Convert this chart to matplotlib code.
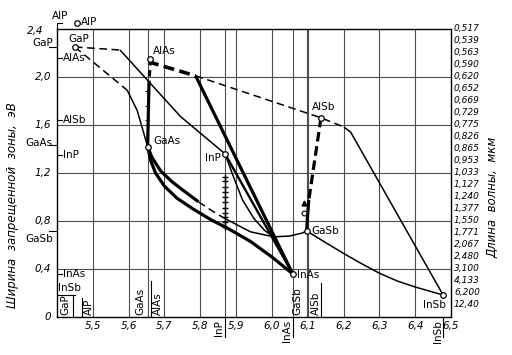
import numpy as np
import matplotlib.pyplot as plt
from matplotlib.transforms import offset_copy

# ---------------------------------------------------------------
# binary compounds: lattice constant (A), band gap (eV)
# ---------------------------------------------------------------
names  = ['GaP', 'AlP', 'AlAs', 'GaAs', 'InP', 'AlSb', 'GaSb', 'InAs', 'InSb']
a_bin  = [5.450, 5.457, 5.661, 5.653, 5.869, 6.137, 6.097, 6.058, 6.478]
eg_bin = [2.25, 2.45, 2.15, 1.42, 1.36, 1.66, 0.717, 0.36, 0.183]

# ---------------------------------------------------------------
# ternary curves
# ---------------------------------------------------------------
# GaP - GaAs
gap_gaas_dash_x = [5.450, 5.596]
gap_gaas_dash_y = [2.25, 1.89]
gap_gaas_x = [5.596, 5.624, 5.653]
gap_gaas_y = [1.89, 1.72, 1.42]
# GaP - InP
gap_inp_dash_x = [5.450, 5.576]
gap_inp_dash_y = [2.25, 2.225]
gap_inp_x = [5.576, 5.745, 5.869]
gap_inp_y = [2.225, 1.67, 1.36]
# AlAs - GaAs
alas_gaas_dash_x = [5.661, 5.657]
alas_gaas_dash_y = [2.15, 1.97]
alas_gaas_x = [5.657, 5.653]
alas_gaas_y = [1.97, 1.42]
alas_gaas_pts_y = [1.88, 1.76, 1.64]
# AlAs - InAs
alas_inas_dash_x = [5.661, 5.666, 5.787]
alas_inas_dash_y = [2.15, 2.117, 2.01]
alas_inas_x = [5.787, 6.058]
alas_inas_y = [2.01, 0.36]
# AlAs - AlSb - InSb
alas_alsb_x = [5.787, 6.137, 6.201]
alas_alsb_y = [2.01, 1.66, 1.583]
alsb_insb_x = [6.201, 6.22, 6.478]
alsb_insb_y = [1.583, 1.54, 0.183]
# AlSb - GaSb
alsb_gasb_dash_x = [6.137, 6.103]
alsb_gasb_dash_y = [1.66, 0.975]
alsb_gasb_x = [6.103, 6.099, 6.097]
alsb_gasb_y = [0.975, 0.82, 0.717]
alsb_gasb_pts_x = [6.090, 6.090]
alsb_gasb_pts_y = [0.95, 0.87]
# GaAs - InAs
gaas_inas_x = [5.653, 5.662, 5.675, 5.70, 5.735, 5.78, 5.83, 5.876, 5.94, 6.0, 6.058]
gaas_inas_y = [1.42, 1.30, 1.20, 1.09, 0.99, 0.90, 0.81, 0.74, 0.63, 0.5, 0.36]
# GaAs - GaSb
gaas_gasb_x1 = [5.653, 5.665, 5.69, 5.72, 5.748, 5.795]
gaas_gasb_y1 = [1.42, 1.33, 1.215, 1.13, 1.065, 0.96]
gaas_gasb_dash_x = [5.795, 5.83, 5.866]
gaas_gasb_dash_y = [0.96, 0.89, 0.825]
gaas_gasb_x2 = [5.866, 5.94, 6.005, 6.05, 6.085, 6.097]
gaas_gasb_y2 = [0.825, 0.71, 0.668, 0.675, 0.70, 0.717]
# InP - InAs, InP - GaSb
inp_inas_x = [5.869, 6.058]
inp_inas_y = [1.36, 0.36]
inp_gasb_x = [5.869, 5.895, 5.918, 5.95, 5.98, 6.005]
inp_gasb_y = [1.36, 1.15, 0.975, 0.82, 0.72, 0.668]
# GaSb - InSb
gasb_insb_x = [6.097, 6.15, 6.2, 6.25, 6.3, 6.35, 6.4, 6.45, 6.478]
gasb_insb_y = [0.717, 0.62, 0.53, 0.445, 0.365, 0.30, 0.25, 0.207, 0.183]
# points lattice-matched to InP
inp_pts_y = [1.17, 1.13, 1.08, 1.04, 1.00, 0.96, 0.91, 0.87, 0.83, 0.79, 0.75]

# ---------------------------------------------------------------
# axes texts
# ---------------------------------------------------------------
x_ticks = [5.5, 5.6, 5.7, 5.8, 5.9, 6.0, 6.1, 6.2, 6.3, 6.4, 6.5]
x_labels = ['5,5', '5,6', '5,7', '5,8', '5,9', '6,0', '6,1', '6,2', '6,3', '6,4', '6,5']
y_ticks = [0, 0.4, 0.8, 1.2, 1.6, 2.0, 2.4]
y_labels = ['0', '0,4', '0,8', '1,2', '1,6', '2,0', '2,4']
wl_pos = [2.4, 2.3, 2.2, 2.1, 2.0, 1.9, 1.8, 1.7, 1.6, 1.5, 1.4, 1.3,
          1.2, 1.1, 1.0, 0.9, 0.8, 0.7, 0.6, 0.5, 0.4, 0.3, 0.2, 0.1]
wl_labels = ['0,517', '0,539', '0,563', '0,590', '0,620', '0,652', '0,669',
             '0,729', '0,775', '0,826', '0,865', '0,953', '1,033', '1,127',
             '1,240', '1,377', '1,550', '1,771', '2,067', '2,480', '3,100',
             '4,133', '6,200', '12,40']

# gap markers on the left axis
left_out = ['GaP', 'GaAs', 'GaSb']
left_out_y = [2.25, 1.43, 0.72]
left_in = ['AlAs', 'AlSb', 'InP', 'InAs']
left_in_y = [2.16, 1.64, 1.35, 0.355]

# lattice constant markers on the bottom axis
full_lines = [5.653, 5.869, 6.058, 6.097]
short_lines_x = [5.444, 5.47, 5.663, 6.137]
short_lines_top = [0.183, 0.16, 0.30, 0.28]
below_lines = [5.869, 6.058, 6.478]
bottom_in = ['GaP', 'AlP', 'GaAs', 'AlAs', 'GaSb', 'AlSb']
bottom_in_x = [5.424, 5.488, 5.633, 5.682, 6.072, 6.122]
bottom_out = ['InP', 'InAs', 'InSb']
bottom_out_x = [5.852, 6.041, 6.463]

# ---------------------------------------------------------------
fig = plt.figure(figsize=(5.12, 3.55), dpi=100)
ax = fig.add_axes([57/512, 38/355, 394/512, 288/355])
ax.set_xlim(5.4, 6.5)
ax.set_ylim(0, 2.4)

def px(dx, dy):
    return offset_copy(ax.transData, fig=fig, x=dx, y=dy, units='dots')

gc = '0.3'
for x in [5.5, 5.6, 5.7, 5.8, 5.9, 6.0, 6.1, 6.2, 6.3, 6.4]:
    ax.axvline(x, color=gc, lw=0.8, zorder=1)
for y in [0.4, 0.8, 1.2, 1.6, 2.0]:
    ax.axhline(y, color=gc, lw=0.8, zorder=1)
for x in full_lines:
    ax.axvline(x, color=gc, lw=0.8, zorder=1)
for x, t in zip(short_lines_x, short_lines_top):
    ax.plot([x, x], [0, t], color='k', lw=0.8)
for x in below_lines:
    ax.plot([x, x], [0, -0.17], color='k', lw=0.8, clip_on=False)
ax.plot([5.4, 5.45], [0.183, 0.183], color='k', lw=0.8)

thick, mid, thin = 2.3, 1.7, 1.1
dash = (0, (5, 3))
segs = [
    (gap_gaas_dash_x, gap_gaas_dash_y, thin, dash),
    (gap_gaas_x, gap_gaas_y, thin, '-'),
    (gap_inp_dash_x, gap_inp_dash_y, thin, dash),
    (gap_inp_x, gap_inp_y, thin, '-'),
    (alas_gaas_dash_x, alas_gaas_dash_y, thick, (0, (2, 1.5))),
    (alas_gaas_x, alas_gaas_y, thick, '-'),
    (alas_inas_dash_x, alas_inas_dash_y, 2.6, (0, (3, 1.5))),
    (alas_inas_x, alas_inas_y, thick, '-'),
    (alas_alsb_x, alas_alsb_y, thin, dash),
    (alsb_insb_x, alsb_insb_y, thin, '-'),
    (alsb_gasb_dash_x, alsb_gasb_dash_y, thick, (0, (3, 1.5))),
    (alsb_gasb_x, alsb_gasb_y, thick, '-'),
    (gaas_inas_x, gaas_inas_y, thick, '-'),
    (gaas_gasb_x1, gaas_gasb_y1, thick, '-'),
    (gaas_gasb_dash_x, gaas_gasb_dash_y, thin, dash),
    (gaas_gasb_x2, gaas_gasb_y2, thin, '-'),
    (inp_inas_x, inp_inas_y, mid, '-'),
    (inp_gasb_x, inp_gasb_y, thin, '-'),
    (gasb_insb_x, gasb_insb_y, thin, '-'),
]
for x, y, lw, ls in segs:
    ax.plot(x, y, color='k', lw=lw, ls=ls, zorder=3, solid_capstyle='butt')

ax.plot([5.869] * len(inp_pts_y), inp_pts_y, ls='none', marker='+', ms=5,
        mew=1.0, color='k', zorder=4)
ax.plot([5.651] * len(alas_gaas_pts_y), alas_gaas_pts_y, ls='none', marker='+',
        ms=3.5, mew=0.7, color='k', zorder=4)
ax.plot(alsb_gasb_pts_x[:1], alsb_gasb_pts_y[:1], ls='none', marker='^', ms=3.5,
        color='k', zorder=4)
ax.plot(alsb_gasb_pts_x[1:], alsb_gasb_pts_y[1:], ls='none', marker='o', ms=3.5,
        mfc='white', mec='k', mew=0.8, zorder=4)

ax.plot(a_bin, eg_bin, ls='none', marker='o', ms=4, mfc='white', mec='k',
        mew=0.9, zorder=5, clip_on=False)

fs = 7.5
lab_off = {'GaP': (-7, 8, 'left', 'center'), 'AlP': (4, 1, 'left', 'center'),
           'AlAs': (2, 8, 'left', 'center'), 'GaAs': (6, 6, 'left', 'center'),
           'InP': (-4, -4, 'right', 'center'), 'AlSb': (3, 11, 'center', 'center'),
           'GaSb': (5, 0, 'left', 'center'), 'InAs': (4, -1, 'left', 'center'),
           'InSb': (3, -10, 'right', 'center')}
for n, a, e in zip(names, a_bin, eg_bin):
    dx, dy, ha, va = lab_off[n]
    ax.text(a, e, n, transform=px(dx, dy), ha=ha, va=va, fontsize=fs)

# AlP mark above the frame
ax.plot([5.4, 5.4, 5.413], [2.4, 2.45, 2.45], color='k', lw=0.8, clip_on=False)
ax.text(5.41, 2.47, 'AlP', ha='center', va='bottom', fontsize=fs)

# left axis: numbers and compounds
ax.set_xticks([])
ax.set_yticks([])
for y, t in zip(y_ticks, y_labels):
    dx = -14 if t == '2,4' else -6
    ax.text(5.4, y, t, transform=px(dx, -2 if t == '2,4' else 0), ha='right',
            va='center', fontsize=fs, style='italic')
for t, y in zip(left_out, left_out_y):
    ax.plot([5.4 - 8 * 1.1 / 394, 5.4], [y, y], color='k', lw=0.8, clip_on=False)
    ax.text(5.4, y, t, transform=px(-4, 4 if t == 'GaP' else (2 if t == 'GaAs' else -8)),
            ha='right', va='center', fontsize=fs)
for t, y in zip(left_in, left_in_y):
    ax.plot([5.4, 5.4 + 5 * 1.1 / 394], [y, y], color='k', lw=0.8)
    ax.text(5.4, y, t, transform=px(6, 0), ha='left', va='center', fontsize=fs)
ax.text(5.4, 0.183, 'InSb', transform=px(1, 7), ha='left', va='center', fontsize=fs)

# bottom axis
for x, t in zip(x_ticks, x_labels):
    ax.text(x, 0, t, transform=px(0, -9), ha='center', va='center',
            fontsize=fs, style='italic')
for t, x in zip(bottom_in, bottom_in_x):
    ax.text(x, 0.02, t, rotation=90, ha='center', va='bottom', fontsize=fs)
for t, x in zip(bottom_out, bottom_out_x):
    ax.text(x, 0, t, transform=px(0, -3), rotation=90, ha='center', va='top',
            fontsize=fs)

# right axis: wavelength
for y, t in zip(wl_pos, wl_labels):
    ax.text(6.5, y, t, transform=px(3, 0), ha='left', va='center',
            fontsize=6.5, style='italic')

fig.text(13/512, 1 - 205/355, 'Ширина  запрещенной  зоны,  эВ', rotation=90,
         ha='center', va='center', fontsize=8.5, style='italic')
fig.text(493/512, 1 - 197/355, 'Длина  волны,  мкм', rotation=90,
         ha='center', va='center', fontsize=8.5, style='italic')

for s in ax.spines.values():
    s.set_linewidth(1.0)

fig.savefig('out.png', dpi=100)
